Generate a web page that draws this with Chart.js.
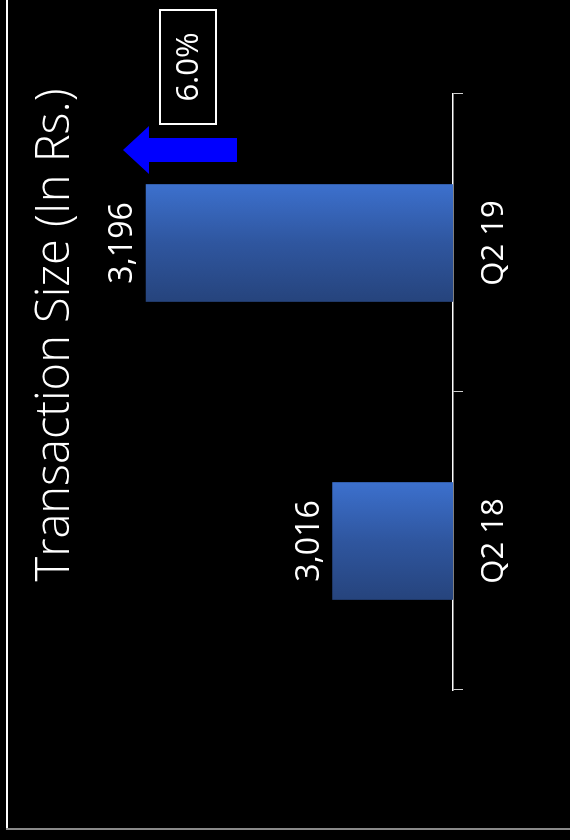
<!DOCTYPE html>
<html>
<head>
<meta charset="utf-8">
<script src="https://cdn.jsdelivr.net/npm/chart.js@4"></script>
<style>
  html, body { margin: 0; padding: 0; background: #000; overflow: hidden; }
  /* the slide is drawn landscape and turned a quarter to the left */
  #slide {
    position: absolute; left: 0; top: 0;
    width: 840px; height: 570px;
    transform-origin: 0 0;
    transform: translateY(840px) rotate(-90deg);
  }
</style>
</head>
<body>
<div id="slide"><canvas id="txn" width="840" height="570"></canvas></div>
<script>
// quarters and average transaction size (Rs.)
const categories = ['Q2 18', 'Q2 19'];
const transactionSize = [3016, 3196];
const axisMin = 2900;
const axisMax = 3250;

const FONT = "'Open Sans', sans-serif";

// growth between the two quarters, shown next to the arrow
const growth = (transactionSize[1] - transactionSize[0]) / transactionSize[0] * 100;

function barGradient(ctx) {
    const chart = ctx.chart;
    const xs = chart.scales.x;
    if (!chart.chartArea || !xs) return '#3a6cc6';
    const cx = xs.getPixelForValue(ctx.dataIndex);
    const half = 58;
    const g = chart.ctx.createLinearGradient(cx - half, 0, cx + half, 0);
    g.addColorStop(0, '#26447d');
    g.addColorStop(0.5, '#2f569f');
    g.addColorStop(1, '#3c70cd');
    return g;
}

const slideExtras = {
    id: 'slideExtras',
    beforeDraw(chart) {
        const c = chart.ctx;
        c.save();
        c.fillStyle = '#000';
        c.fillRect(0, 0, chart.width, chart.height);
        // slide frame
        c.strokeStyle = '#ffffff';
        c.lineWidth = 2;
        c.beginPath();
        c.moveTo(11, 7);
        c.lineTo(chart.width, 7);
        c.stroke();
        c.strokeStyle = '#8a8a8a';
        c.beginPath();
        c.moveTo(11, 6);
        c.lineTo(11, chart.height);
        c.stroke();
        c.restore();
    },
    afterDraw(chart) {
        const c = chart.ctx;
        const ca = chart.chartArea;
        c.save();
        c.fillStyle = '#fff';
        // title
        c.font = '300 47px ' + FONT;
        c.textAlign = 'center';
        c.textBaseline = 'alphabetic';
        c.fillText('Transaction Size (In Rs.)', 505, 69);

        // value labels over bars
        c.font = '32px ' + FONT;
        const meta = chart.getDatasetMeta(0);
        meta.data.forEach((bar, i) => {
            c.fillText(transactionSize[i].toLocaleString('en-US'), bar.x, bar.y - 14);
        });

        // blue up arrow
        const ax = ca.right - 56;
        const tip = ca.top + 33;
        c.fillStyle = '#0000ff';
        c.beginPath();
        c.moveTo(ax, tip);
        c.lineTo(ax + 24, tip + 26);
        c.lineTo(ax + 12, tip + 26);
        c.lineTo(ax + 12, tip + 114);
        c.lineTo(ax - 12, tip + 114);
        c.lineTo(ax - 12, tip + 26);
        c.lineTo(ax - 24, tip + 26);
        c.closePath();
        c.fill();

        // growth box
        const bx = ca.right - 30, by = ca.top + 70, bw = 114, bh = 56;
        c.strokeStyle = '#fff';
        c.lineWidth = 2;
        c.strokeRect(bx, by, bw, bh);
        c.fillStyle = '#fff';
        c.font = '31px ' + FONT;
        c.textBaseline = 'middle';
        c.fillText(growth.toFixed(1) + '%', bx + bw / 2, by + bh / 2 + 1);
        c.restore();
    }
};

new Chart(document.getElementById('txn'), {
    type: 'bar',
    data: {
        labels: categories,
        datasets: [{
            label: 'Transaction Size (In Rs.)',
            data: transactionSize,
            backgroundColor: barGradient,
            borderWidth: 0,
            barThickness: 117
        }]
    },
    options: {
        responsive: false,
        animation: false,
        devicePixelRatio: 1,
        layout: { padding: { left: 150, right: 94, top: 90, bottom: 0 } },
        scales: {
            x: {
                offset: true,
                grid: {
                    display: true,
                    offset: true,
                    drawOnChartArea: false,
                    drawTicks: true,
                    tickLength: 10,
                    color: '#cfcfcf'
                },
                border: { display: true, color: '#ffffff', width: 1.5 },
                ticks: { color: '#fff', font: { family: FONT, size: 31 }, padding: 13 },
                afterFit(scale) { scale.height = 117; }
            },
            y: { display: false, min: axisMin, max: axisMax }
        },
        plugins: {
            legend: { display: false },
            tooltip: { enabled: false }
        }
    },
    plugins: [slideExtras]
});
</script>
</body>
</html>
